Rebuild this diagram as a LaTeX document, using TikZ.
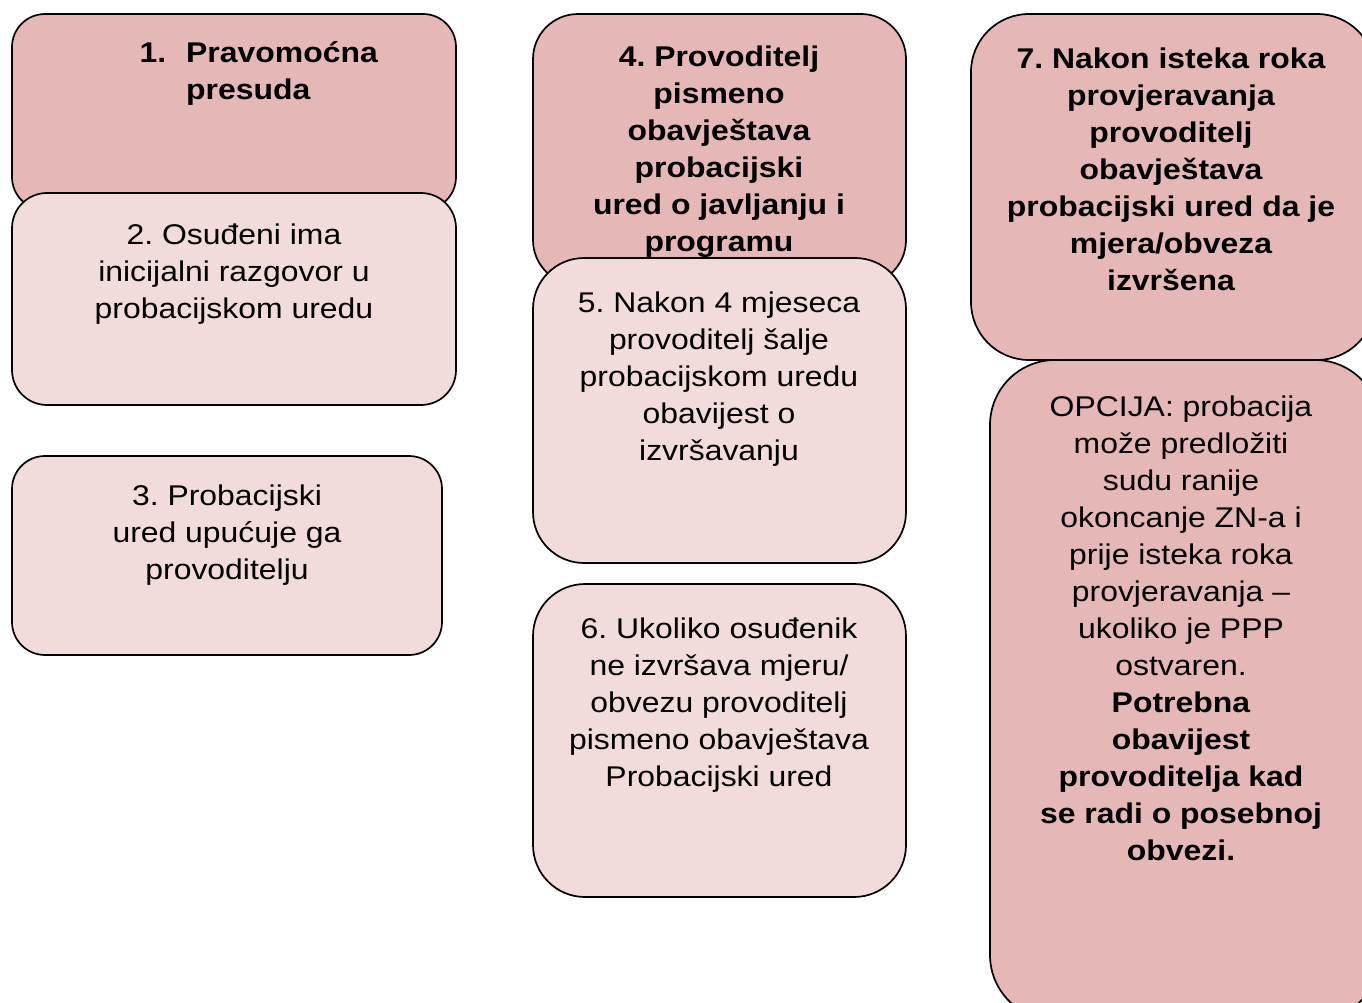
\documentclass[tikz,border=0pt]{standalone}
\usepackage{fontspec}
\setmainfont{Liberation Sans}[FakeStretch=1.12]
\definecolor{dk}{HTML}{E5B8B7}
\definecolor{lt}{HTML}{F2DBDB}
\tikzset{
  box/.style={draw=black, line width=1.7pt, inner sep=0pt, outer sep=0pt, anchor=north west},
  dkbox/.style={box, fill=dk},
  ltbox/.style={box, fill=lt},
  txt/.style={inner sep=0pt, align=center, anchor=north, font=\fontsize{28.5}{37}\selectfont},
  btxt/.style={txt, font=\fontsize{28.5}{37}\selectfont\bfseries},
}
\frenchspacing
\begin{document}
\frenchspacing
\begin{tikzpicture}[x=1pt, y=-1pt]
\useasboundingbox (0,0) rectangle (1362,1003);
\clip (0,0) rectangle (1362,1003);
% column 1
\node[dkbox, rounded corners=33pt, minimum width=444pt, minimum height=196pt] (b1) at (12,14) {};
\node[btxt, align=left, anchor=north west] (t1) at (186,36.1) {\strut\makebox[0pt][r]{1.\hspace{20pt}}Pravomoćna\\presuda};
\node[ltbox, rounded corners=35pt, minimum width=444pt, minimum height=212pt] (b2) at (12,193) {};
\node[txt] (t2) at (234,218.1) {\strut 2. Osuđeni ima\\inicijalni razgovor u\\probacijskom uredu};
\node[ltbox, rounded corners=33pt, minimum width=430pt, minimum height=199pt] (b3) at (12,456) {};
\node[txt] (t3) at (227,479.1) {\strut 3. Probacijski\\ured upućuje ga\\provoditelju};
% column 2
\node[dkbox, rounded corners=45pt, minimum width=373pt, minimum height=271pt] (b4) at (533,14) {};
\node[btxt] (t4) at (719,40.1) {\strut 4. Provoditelj\\pismeno\\obavještava\\probacijski\\ured o javljanju i\\programu};
\node[ltbox, rounded corners=51pt, minimum width=373pt, minimum height=305pt] (b5) at (533,258) {};
\node[txt] (t5) at (719,286.1) {\strut 5. Nakon 4 mjeseca\\provoditelj šalje\\probacijskom uredu\\obavijest o\\izvršavanju};
\node[ltbox, rounded corners=52pt, minimum width=373pt, minimum height=313pt] (b6) at (533,584) {};
\node[txt] (t6) at (719,612.1) {\strut 6. Ukoliko osuđenik\\ne izvršava mjeru/\\obvezu provoditelj\\pismeno obavještava\\Probacijski ured};
% column 3
\node[dkbox, rounded corners=58pt, minimum width=404pt, minimum height=346pt] (b7) at (971,14) {};
\node[btxt] (t7) at (1171,42.1) {\strut 7. Nakon isteka roka\\provjeravanja\\provoditelj\\obavještava\\probacijski ured da je\\mjera/obveza\\izvršena};
\node[dkbox, rounded corners=65pt, minimum width=390pt, minimum height=660pt] (b8) at (990,360) {};
\node[txt] (t8) at (1181,390.1) {\strut OPCIJA: probacija\\može predložiti\\sudu ranije\\okoncanje ZN-a i\\prije isteka roka\\provjeravanja –\\ukoliko je PPP\\ostvaren.\\\textbf{Potrebna}\\\textbf{obavijest}\\\textbf{provoditelja kad}\\\textbf{se radi o posebnoj}\\\textbf{obvezi.}};
\end{tikzpicture}
\end{document}
